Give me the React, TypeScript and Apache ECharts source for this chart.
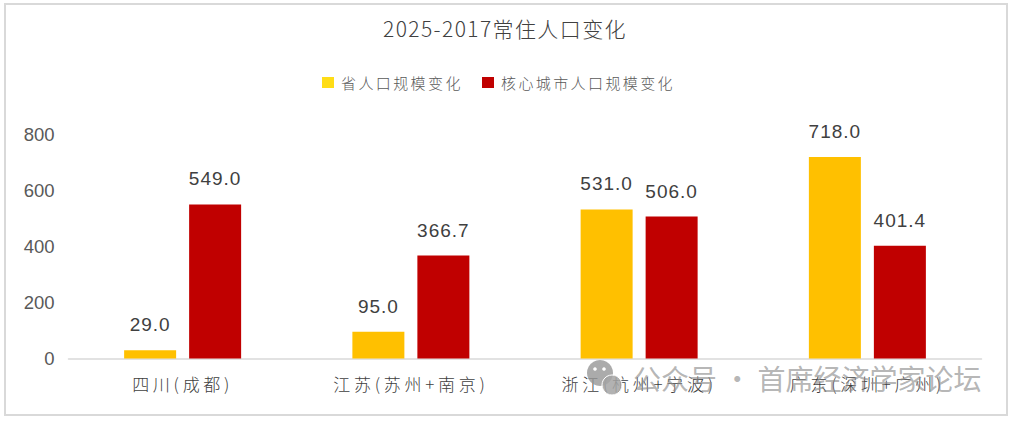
import React, { useEffect, useRef } from "react";
import * as echarts from "echarts";

const chartTitle = "2025-2017常住人口变化";
const categories = ["四川(成都)", "江苏(苏州+南京)", "浙江(杭州+宁波)", "广东(深圳+广州)"];
const provinceName = "省人口规模变化";
const cityName = "核心城市人口规模变化";
const provinceValues = [29.0, 95.0, 531.0, 718.0];
const cityValues = [549.0, 366.7, 506.0, 401.4];
const yTicks = { min: 0, max: 800, interval: 200 };
const watermark = "公众号 · 首席经济学家论坛";

const CJK = '"Noto Sans CJK SC", "Noto Sans", sans-serif';
const NUM = '"Liberation Sans", sans-serif';

export default function App() {
  const ref = useRef<HTMLDivElement>(null);
  useEffect(() => {
    document.body.style.margin = "0";
    const chart = echarts.init(ref.current!, undefined, { renderer: "svg" });
    const label = {
      show: true,
      position: "top" as const,
      distance: 16,
      fontSize: 19,
      fontFamily: NUM,
      color: "#404040",
      formatter: (p: any) => Number(p.value).toFixed(1),
    };
    chart.setOption({
      animation: false,
      backgroundColor: "#ffffff",
      title: {
        text: chartTitle,
        left: 500,
        top: 12,
        textAlign: "center",
        textStyle: { fontFamily: CJK, fontSize: 21, fontWeight: 300, color: "#404040" },
      },
      legend: {
        top: 70,
        left: 317,
        itemWidth: 12,
        itemHeight: 11,
        itemGap: 36,
        icon: "rect",
        textStyle: { fontFamily: CJK, fontSize: 15, fontWeight: 300, color: "#595959", padding: [0, 0, 0, 2] },
        data: [
          { name: provinceName, itemStyle: { color: "#FFDD17" } },
          { name: cityName, itemStyle: { color: "#C00000" } },
        ],
      },
      grid: { left: 68.5, right: 33.5, top: 134, bottom: 62.5 },
      xAxis: {
        type: "category",
        data: categories,
        axisLine: { lineStyle: { color: "#D9D9D9", width: 1.5 } },
        axisTick: { show: false },
        axisLabel: { fontFamily: CJK, fontSize: 17, fontWeight: 300, color: "#404040", margin: 16 },
      },
      yAxis: {
        type: "value",
        min: yTicks.min,
        max: yTicks.max,
        interval: yTicks.interval,
        axisLine: { show: false },
        axisTick: { show: false },
        splitLine: { show: false },
        axisLabel: { fontFamily: NUM, fontSize: 18.5, color: "#595959", margin: 14 },
      },
      series: [
        { name: provinceName, type: "bar", data: provinceValues, barWidth: 52, barGap: "25%", itemStyle: { color: "#FFC000" }, label },
        { name: cityName, type: "bar", data: cityValues, barWidth: 52, barGap: "25%", itemStyle: { color: "#C00000" }, label },
      ],
      graphic: [
        { type: "rect", silent: true, z: 0, shape: { x: 5, y: 4, width: 1002, height: 411 }, style: { fill: "none", stroke: "#D9D9D9", lineWidth: 2 } },
        { type: "circle", silent: true, z: 50, shape: { cx: 600, cy: 373, r: 13 }, style: { fill: "rgba(150,150,150,0.8)" } },
        { type: "circle", silent: true, z: 50, shape: { cx: 612, cy: 385, r: 10 }, style: { fill: "rgba(165,165,165,0.85)", stroke: "#fff", lineWidth: 1 } },
        { type: "circle", silent: true, z: 51, shape: { cx: 595, cy: 369, r: 1.8 }, style: { fill: "#fff" } },
        { type: "circle", silent: true, z: 51, shape: { cx: 604, cy: 369, r: 1.8 }, style: { fill: "#fff" } },
        { type: "text", silent: true, z: 50, x: 633, y: 378, style: { text: watermark, font: `28px ${CJK}`, fill: "rgba(140,140,140,0.65)", textVerticalAlign: "middle" } },
      ],
    });
    // ECharts has no letter-spacing option: the reference's wide tracking is applied to the SVG texts.
    const spacing = (t: string): number => {
      if (t === chartTitle) return 1.4;
      if (t === provinceName || t === cityName) return 2.4;
      if (categories.includes(t)) return 3.7;
      if (/^\d+\.\d$/.test(t)) return 1;
      return 0;
    };
    ref.current!.querySelectorAll("text").forEach((el) => {
      const s = spacing(el.textContent || "");
      if (s) (el as SVGTextElement).style.letterSpacing = `${s}px`;
    });
    return () => chart.dispose();
  }, []);
  return <div ref={ref} style={{ width: 1015, height: 421 }} />;
}
